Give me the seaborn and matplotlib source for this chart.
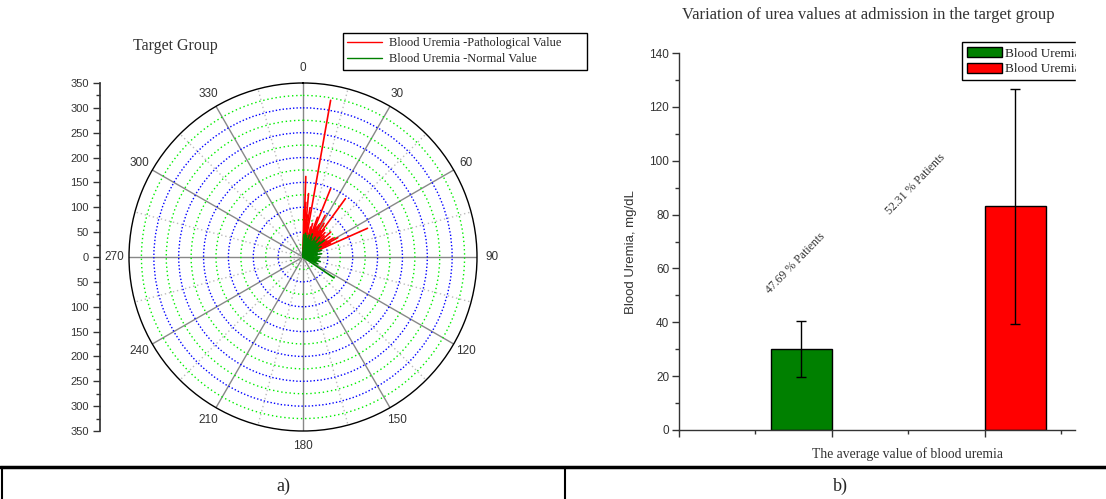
import numpy as np
import pandas as pd
import matplotlib
matplotlib.use('Agg')
import matplotlib.pyplot as plt
import seaborn as sns
from matplotlib.lines import Line2D
from matplotlib.patches import Patch, Rectangle
from matplotlib.ticker import MultipleLocator, FixedLocator, FuncFormatter

# a) polar spokes, angle in degrees and blood uremia value
red_theta = [1, 2, 3, 4, 5, 6, 7, 8, 9, 10,
             14, 16, 18, 20, 22, 24, 26, 28, 30, 32, 34, 36, 38, 40, 42,
             45, 48, 50, 53, 56, 58, 61, 63, 66]
red_r = [95, 162, 110, 75, 128, 85, 68, 100, 60, 320,
         62, 70, 58, 85, 148, 66, 72, 95, 60, 80, 64, 145, 70, 58, 66,
         60, 75, 55, 68, 58, 72, 80, 62, 142]
green_theta = [2, 4, 6, 8, 10, 13, 16, 19, 22, 25, 28, 32, 36, 40, 44, 48,
               52, 56, 60, 65, 70, 75, 80, 85, 90, 95, 100, 105, 110, 115, 124]
green_r = [45, 42, 48, 40, 44, 38, 46, 36, 50, 42, 35, 47, 40, 52, 38, 45,
           55, 36, 42, 34, 40, 30, 38, 28, 35, 32, 30, 36, 28, 33, 75]
red_label = 'Blood Uremia -Pathological Value'
green_label = 'Blood Uremia -Normal Value'

# b) mean and standard deviation of blood uremia
bar_groups = ['Normal', 'Pathological']
bar_means = [30, 83]
bar_sd = [10.3, 43.6]
bar_colors = ['#008000', '#FF0000']
bar_notes = ['47.69 % Patients', '52.31 % Patients']

sns.set_theme(style='white')
plt.rcParams['font.family'] = ['Liberation Sans', 'DejaVu Sans']
serif = ['Liberation Serif', 'DejaVu Serif']
W, H = 1106, 499

fig = plt.figure(figsize=(W / 100, H / 100), dpi=100)

# ---- a) polar plot
rows = []
for label, thetas, rs in [(red_label, red_theta, red_r), (green_label, green_theta, green_r)]:
    for i, (t, r) in enumerate(zip(thetas, rs)):
        rows.append((np.radians(t), 0, f'{label}{i}', label))
        rows.append((np.radians(t), r, f'{label}{i}', label))
spokes = pd.DataFrame(rows, columns=['theta', 'r', 'spoke', 'group'])

axp = fig.add_axes([129 / W, 1 - 431 / H, 348 / W, 348 / H], projection='polar')
axp.set_theta_zero_location('N')
axp.set_theta_direction(-1)
sns.lineplot(data=spokes, x='theta', y='r', hue='group', units='spoke',
             estimator=None, sort=False, palette={red_label: 'red', green_label: 'green'},
             lw=1.2, legend=False, ax=axp)
axp.set_xlabel('')
axp.set_ylabel('')
axp.set_ylim(0, 350)
axp.set_yticks(np.arange(50, 350, 50))
axp.yaxis.set_minor_locator(FixedLocator(np.arange(25, 350, 50)))
axp.set_yticklabels([])
axp.set_thetagrids(np.arange(0, 360, 30), [str(a) for a in range(0, 360, 30)])
axp.xaxis.set_minor_locator(FixedLocator(np.radians(np.arange(15, 360, 30))))
axp.tick_params(axis='x', pad=-2.5, labelsize=8.5, labelcolor='#333333')
axp.tick_params(axis='x', which='minor', length=0)
axp.grid(False)
axp.xaxis.grid(True, which='major', color='#888888', lw=1, ls='-')
axp.xaxis.grid(True, which='minor', color='#bbbbbb', lw=1, ls=(0, (1, 2)))
axp.yaxis.grid(True, which='major', color='#0000FF', lw=1, ls=(0, (1, 1.5)))
axp.yaxis.grid(True, which='minor', color='#00EE00', lw=1, ls=(0, (1, 2)))
axp.spines['polar'].set_color('black')
axp.spines['polar'].set_linewidth(1)
for line in axp.lines:
    line.set_zorder(3)

# radial scale drawn on the left
axl = fig.add_axes([100 / W, 1 - 431 / H, 0.001, 348 / H])
axl.set_facecolor('none')
for s in ['top', 'right', 'bottom']:
    axl.spines[s].set_visible(False)
axl.spines['left'].set_color('#333333')
axl.set_ylim(-350, 350)
axl.set_xticks([])
axl.yaxis.set_major_locator(MultipleLocator(50))
axl.yaxis.set_minor_locator(MultipleLocator(25))
axl.yaxis.set_major_formatter(FuncFormatter(lambda v, p: f'{abs(v):.0f}'))
axl.tick_params(axis='y', which='major', left=True, length=5, width=1, color='#333333',
                labelsize=8, labelcolor='#333333', pad=3)
axl.tick_params(axis='y', which='minor', left=True, length=3, width=1, color='#333333')

fig.text(175 / W, 1 - 46 / H, 'Target Group', ha='center', va='center',
         family=serif, fontsize=11.5, color='#333333')
pad = '\u00a0' * 7
fig.legend(handles=[Line2D([], [], color='red', lw=1), Line2D([], [], color='green', lw=1)],
           labels=[red_label + pad, green_label], loc='upper left',
           bbox_to_anchor=(343 / W, 1 - 33 / H), frameon=True, fancybox=False,
           edgecolor='black', framealpha=1, prop={'family': serif, 'size': 9},
           handlelength=2.8, borderpad=0.35, labelspacing=0.3, borderaxespad=0,
           handletextpad=0.5)
fig.legends[-1].get_frame().set_linewidth(1)

# ---- b) bar chart
axb = fig.add_axes([679 / W, 1 - 430 / H, 396 / W, 377 / H])
sns.barplot(x=bar_groups, y=bar_means, hue=bar_groups, palette=bar_colors, saturation=1,
            width=0.285, edgecolor='black', linewidth=1, legend=False, ax=axb)
centers = [p.get_x() + p.get_width() / 2 for p in axb.patches]
axb.errorbar(centers, bar_means, yerr=bar_sd, fmt='none', ecolor='black',
             elinewidth=1, capsize=3.5, capthick=1)
axb.set_ylim(0, 140)
axb.yaxis.set_major_locator(MultipleLocator(20))
axb.yaxis.set_minor_locator(MultipleLocator(10))
x0, step = -0.8 / 1.4, 0.5 / 1.4
axb.set_xlim(x0, x0 + 2.59 / 1.4)
axb.set_xticks([x0 + k * step for k in (0, 2, 4)])
axb.set_xticks([x0 + k * step for k in (1, 3, 5)], minor=True)
axb.set_xticklabels([])
for s in ['top', 'right']:
    axb.spines[s].set_visible(False)
for s in ['left', 'bottom']:
    axb.spines[s].set_color('#333333')
    axb.spines[s].set_linewidth(1)
axb.tick_params(axis='both', which='major', bottom=True, left=True, length=5, width=1,
                color='#333333', labelsize=8.5, labelcolor='#333333', pad=2)
axb.tick_params(axis='both', which='minor', bottom=True, left=True, length=3, width=1,
                color='#333333')
axb.set_ylabel('Blood Uremia, mg/dL', fontsize=9.5, color='#333333')
axb.yaxis.set_label_coords(-0.105, 0.472)
axb.set_xlabel('The average value of blood uremia', family=serif, fontsize=9.8,
               color='#333333')
axb.xaxis.set_label_coords(0.576, -0.045)
axb.text(0.295, 0.443, bar_notes[0], rotation=46, transform=axb.transAxes,
         ha='center', va='center', family=serif, fontsize=8.5, color='#333333')
axb.text(0.598, 0.652, bar_notes[1], rotation=46, transform=axb.transAxes,
         ha='center', va='center', family=serif, fontsize=8.5, color='#333333')
leg = axb.legend(handles=[Patch(facecolor=c, edgecolor='black') for c in bar_colors],
                 labels=['Blood Uremia', 'Blood Uremia'], loc='upper left',
                 bbox_to_anchor=((962 - 679) / 396, (430 - 42) / 377), frameon=True,
                 fancybox=False, edgecolor='black', framealpha=1,
                 prop={'family': serif, 'size': 9.5}, handlelength=2.6, handleheight=0.8,
                 borderpad=0.4, labelspacing=0.2, handletextpad=0.25, borderaxespad=0)
leg.get_frame().set_linewidth(1)
fig.text(868 / W, 1 - 15 / H, 'Variation of urea values at admission in the target group',
         ha='center', va='center', family=serif, fontsize=12, color='#333333')

# the original image is cut at the right
fig.add_artist(Rectangle((1076 / W, 1 - 95 / H), 30 / W, 65 / H,
                         transform=fig.transFigure, color='white', zorder=10))

# ---- caption table
ytab = 1 - 467 / H
fig.add_artist(Line2D([0, 1], [ytab, ytab], transform=fig.transFigure, color='black', lw=2.5))
fig.add_artist(Line2D([565 / W, 565 / W], [0, ytab], transform=fig.transFigure, color='black', lw=1.5))
fig.add_artist(Line2D([2 / W, 2 / W], [0, ytab], transform=fig.transFigure, color='black', lw=1.5))
fig.text(283 / W, 1 - 486 / H, 'a)', ha='center', va='center', family=serif, fontsize=13)
fig.text(840 / W, 1 - 486 / H, 'b)', ha='center', va='center', family=serif, fontsize=13)

fig.savefig('out.png', dpi=100, facecolor='white')
